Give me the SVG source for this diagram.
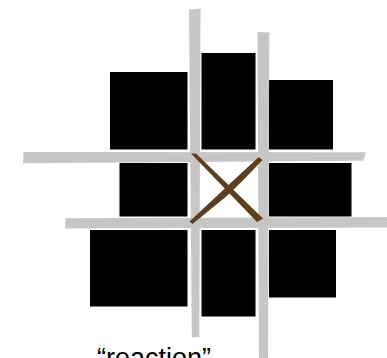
<svg xmlns="http://www.w3.org/2000/svg" width="387" height="358" viewBox="0 0 387 358">
<style>
.blk{fill:#000}
.st{fill:#c6c6c6}
.x{fill:#5b3f1f}
.lbl{font-family:"Liberation Sans",Arial,sans-serif;font-size:27px;fill:#000}
</style>
<rect width="387" height="358" fill="#fff"/>
<g id="blocks">
<rect class="blk" x="110" y="72" width="77.5" height="77.5"/>
<rect class="blk" x="201.5" y="53" width="54" height="96.5"/>
<rect class="blk" x="269" y="80" width="64" height="69.5"/>
<rect class="blk" x="119.5" y="163" width="68" height="53.5"/>
<rect class="blk" x="269" y="163" width="82.5" height="53.5"/>
<rect class="blk" x="90" y="230" width="97.5" height="76.5"/>
<rect class="blk" x="201.5" y="230" width="54" height="86.5"/>
<rect class="blk" x="269" y="230" width="67" height="67.5"/>
</g>
<g id="streets">
<polygon class="st" points="23.5,152 366,152.3 363,160.7 23,163.3"/>
<polygon class="st" points="65.5,218.3 387,217 387,227.5 65,228.5"/>
<polygon class="st" points="189,9.5 200.5,8.5 199.3,337 191.8,337.5"/>
<polygon class="st" points="257.5,32 269.3,32.5 268,358 259,358"/>
</g>
<g id="crossing">
<path class="x" d="M191,153.5 L196,153.5 L263,218.5 L257,222 Z"/>
<path class="x" d="M258.8,157 L262.5,160 Q241,183 225,197.5 L192.5,224 L189.5,221.5 L220.5,192.5 Q237,177 258.8,157 Z"/>
</g>
<text class="lbl" x="97" y="367">“reaction”</text>
</svg>
